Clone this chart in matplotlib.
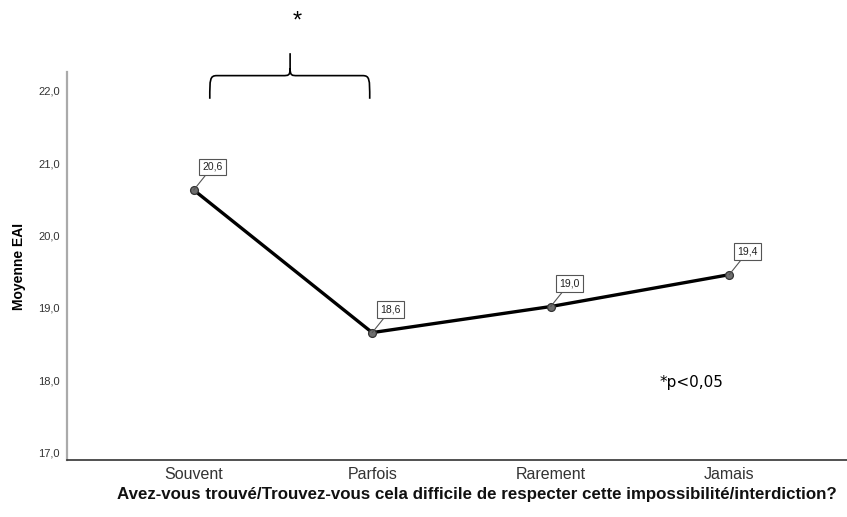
import matplotlib.pyplot as plt
from matplotlib.path import Path
from matplotlib.patches import PathPatch

plt.rcParams['font.family'] = ['Liberation Sans', 'DejaVu Sans']

# données
categories = ['Souvent', 'Parfois', 'Rarement', 'Jamais']
moyennes = [20.63, 18.66, 19.02, 19.46]
etiquettes = ['20,6', '18,6', '19,0', '19,4']
yticks = [17, 18, 19, 20, 21, 22]
ytick_labels = ['17,0', '18,0', '19,0', '20,0', '21,0', '22,0']

fig = plt.figure(figsize=(8.47, 5.17), dpi=100)
ax = fig.add_axes([67 / 847, (517 - 460) / 517, 780 / 847, 388 / 517])

x = range(len(categories))
ax.plot(x, moyennes, color='black', lw=2.4, zorder=2)
ax.scatter(x, moyennes, s=32, color='#6e6e6e', edgecolor='#333333', lw=0.9, zorder=3)

for xi, yi, lab in zip(x, moyennes, etiquettes):
    ax.annotate(lab, (xi, yi), xytext=(6, 13), textcoords='offset points',
                fontsize=7.5, color='#222222', ha='left', va='bottom',
                bbox=dict(boxstyle='square,pad=0.32', fc='white', ec='#555555', lw=0.8),
                arrowprops=dict(arrowstyle='-', color='#555555', lw=0.8,
                                shrinkA=0, shrinkB=0))

ax.set_xlim(-0.71, 3.66)
ax.set_ylim(16.9, 22.26)
ax.set_xticks(list(x))
ax.set_xticklabels(categories, fontsize=11.5, color='#333333')
ax.set_yticks(yticks)
ax.set_yticklabels(ytick_labels, fontsize=8, color='#333333')
ax.tick_params(length=0, pad=5)
ax.tick_params(axis='y', pad=5)

for s in ['top', 'right']:
    ax.spines[s].set_visible(False)
ax.spines['left'].set_color('#aaaaaa')
ax.spines['left'].set_linewidth(1.6)
ax.spines['bottom'].set_color('#333333')
ax.spines['bottom'].set_linewidth(1.2)

ax.set_ylabel('Moyenne EAI', fontsize=10, fontweight='bold', labelpad=9)
ax.set_xlabel('Avez-vous trouvé/Trouvez-vous cela difficile de respecter cette impossibilité/interdiction?',
              fontsize=12.15, fontweight='bold', labelpad=4, color='#111111')
ax.xaxis.label.set_x(0.526)

# accolade de significativité
x0, x1, xm = 0.09, 0.986, 0.54
yb, yh, yt = 21.89, 22.21, 22.52
r = 0.04
verts = [
    (x0, yb), (x0, yh - 0.05), (x0, yh), (x0 + r, yh),
    (xm - r, yh),
    (xm - 0.01, yh), (xm, yh), (xm, yh + 0.1),
    (xm, yt),
    (xm, yh + 0.1),
    (xm, yh), (xm + 0.01, yh), (xm + r, yh),
    (x1 - r, yh),
    (x1, yh), (x1, yh - 0.05), (x1, yb),
]
codes = [Path.MOVETO, Path.CURVE4, Path.CURVE4, Path.CURVE4,
         Path.LINETO,
         Path.CURVE4, Path.CURVE4, Path.CURVE4,
         Path.LINETO,
         Path.MOVETO,
         Path.CURVE4, Path.CURVE4, Path.CURVE4,
         Path.LINETO,
         Path.CURVE4, Path.CURVE4, Path.CURVE4]
ax.add_patch(PathPatch(Path(verts, codes), fc='none', ec='black', lw=1.2, clip_on=False))
ax.text(xm + 0.04, 22.96, '*', fontsize=17, ha='center', va='center', clip_on=False)

ax.text(2.61, 17.97, '*p<0,05', fontsize=11, ha='left', va='center', family=['DejaVu Sans'])

fig.savefig('out.png', dpi=100)
